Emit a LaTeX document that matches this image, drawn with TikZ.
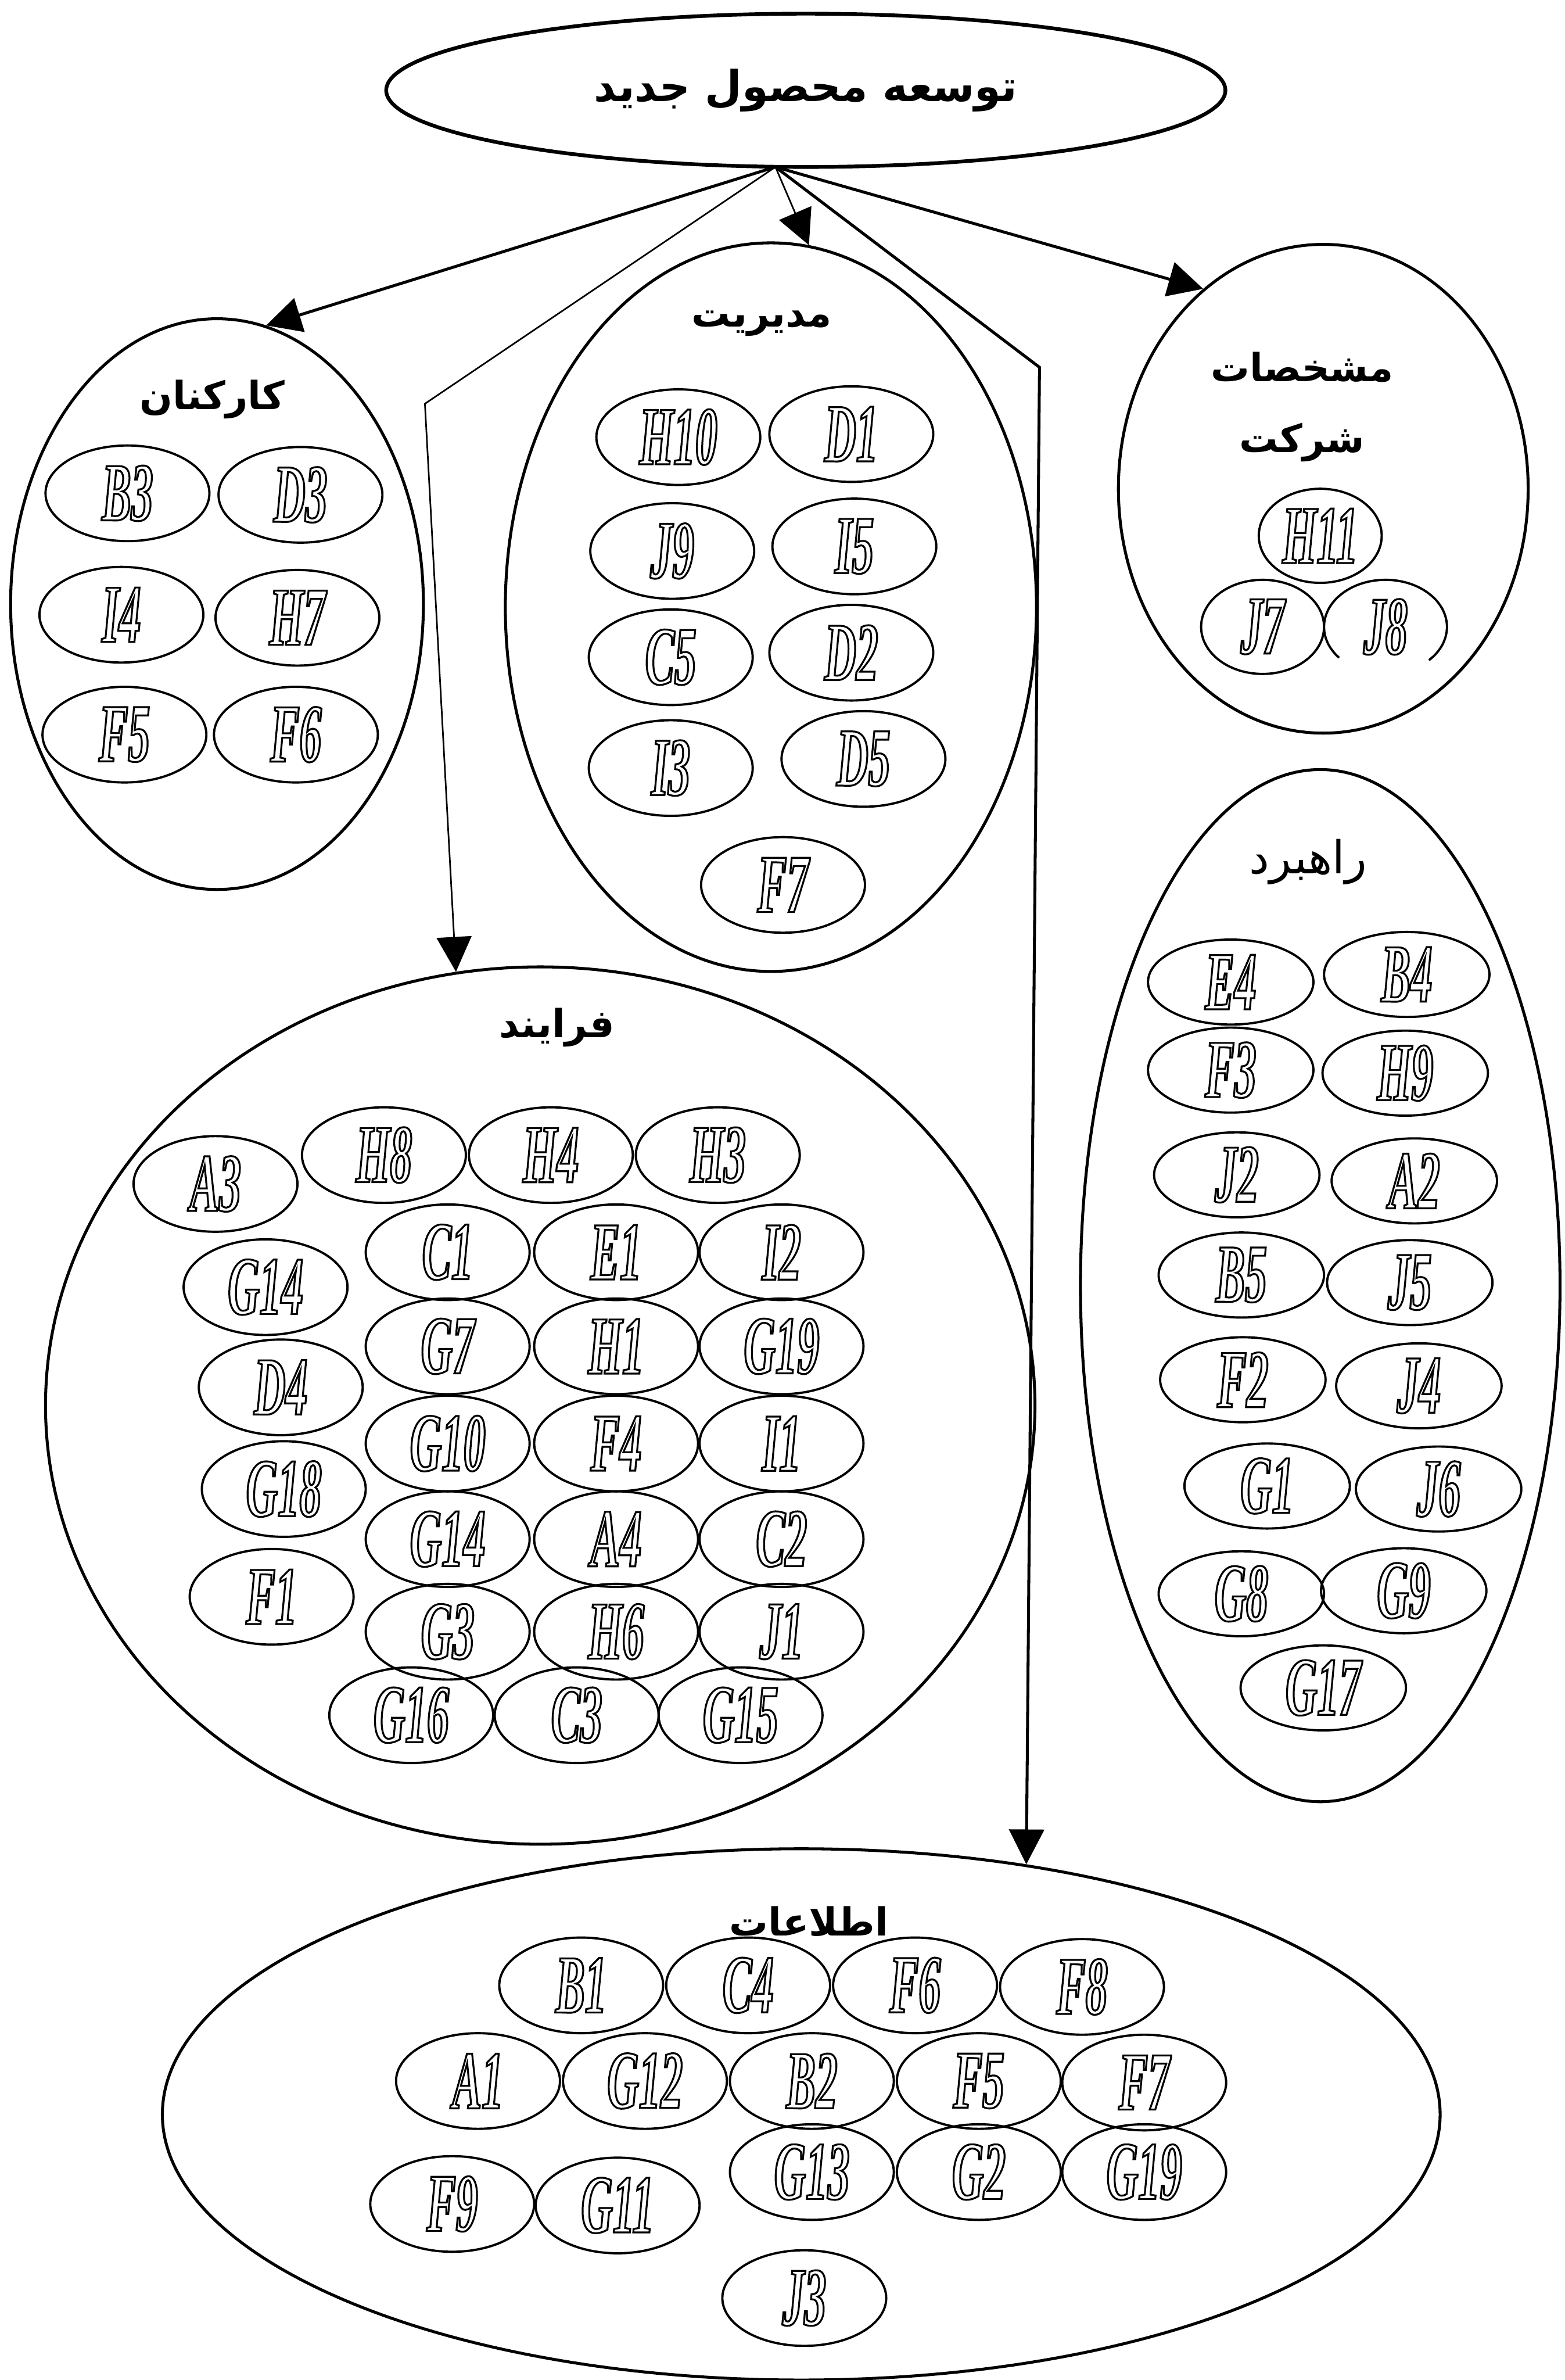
\documentclass[tikz,border=0pt]{standalone}
\usepackage{fontspec}
\usetikzlibrary{shapes.geometric, arrows.meta}

\newfontfamily\arabicfont[Script=Arabic]{DejaVu Sans}
\newfontfamily\codefont[FakeStretch=0.53]{Liberation Serif}
\newcommand\hollow{\special{pdf:literal direct 1 Tr 0.7 w}}
\TeXXeTstate=1

\begin{document}
\begin{tikzpicture}[
  x=0.2mm, y=-0.2mm,
  root/.style    = {draw, ellipse, line width=1.4pt, inner sep=0pt,
                    minimum width=110.6mm, minimum height=20.2mm,
                    font=\arabicfont\bfseries\fontsize{16}{20}\selectfont},
  group/.style   = {draw, ellipse, line width=1.1pt, inner sep=0pt},
  item/.style    = {draw, ellipse, line width=0.85pt, inner sep=0pt,
                    minimum width=21.6mm, minimum height=12.6mm,
                    font=\codefont\bfseries\itshape\fontsize{31}{33}\selectfont\hollow},
  small/.style   = {minimum width=16.2mm, minimum height=12.4mm},
  flat/.style    = {minimum width=21.8mm, minimum height=11.2mm},
  title/.style   = {inner sep=0pt, align=center,
                    font=\arabicfont\bfseries\fontsize{14.5}{26.5}\selectfont},
  arr/.style     = {-{Triangle[length=4.6mm, width=4.6mm]}, line width=0.6pt},
  boldarr/.style = {arr, line width=1.1pt},
]

%── Root ──────────────────────────────────────────────────────────────────
\useasboundingbox (0,0) rectangle (1031,1568);
\node[root] (top) at (531,59.5) {\beginR توسعه محصول جدید\endR};

%── Groups ────────────────────────────────────────────────────────────────
\node[group, minimum width=54.4mm,  minimum height=75.2mm]  (kar) at (143,398)  {};
\node[group, minimum width=70mm,    minimum height=96mm]    (mod) at (508,400)  {};
\node[group, minimum width=54mm,    minimum height=64.4mm]  (msh) at (872,322)  {};
\node[group, minimum width=63.2mm,  minimum height=136mm]   (rah) at (870,847)  {};
\node[group, minimum width=130.4mm, minimum height=115.6mm] (far) at (356,926)  {};
\node[group, minimum width=168.4mm, minimum height=70mm]    (ett) at (528,1393) {};

\node[title] (karT) at (140,263)  {\beginR کارکنان\endR};
\node[title] (modT) at (502,213)  {\beginR مدیریت\endR};
\node[title] (mshT) at (858,268)  {\beginR مشخصات\endR\\\beginR شرکت\endR};
\node[title, font=\arabicfont\fontsize{17}{20}\selectfont]
             (rahT) at (862,568)  {\beginR راهبرد\endR};
\node[title] (farT) at (367,677)  {\beginR فرایند\endR};
\node[title] (ettT) at (533,1266) {\beginR اطلاعات\endR};

%── Personnel ─────────────────────────────────────────────────────────────
\node[item] (kB3) at (84,325)  {B3};
\node[item] (kD3) at (198,326) {D3};
\node[item] (kI4) at (80,405)  {I4};
\node[item] (kH7) at (196,407) {H7};
\node[item] (kF5) at (82,484)  {F5};
\node[item] (kF6) at (195,484) {F6};

%── Management ────────────────────────────────────────────────────────────
\node[item] (mH10) at (447,288) {H10};
\node[item] (mD1)  at (561,286) {D1};
\node[item] (mJ9)  at (443,363) {J9};
\node[item] (mI5)  at (563,360) {I5};
\node[item] (mC5)  at (442,433) {C5};
\node[item] (mD2)  at (561,430) {D2};
\node[item] (mI3)  at (442,506) {I3};
\node[item] (mD5)  at (569,500) {D5};
\node[item] (mF7)  at (516,583) {F7};

%── Company profile ───────────────────────────────────────────────────────
\node[item, small] (sH11) at (870,353) {H11};
\node[item, small] (sJ7)  at (832,413) {J7};
\node[item, small, draw=none] (sJ8) at (913,413) {J8};
\draw[line width=0.85pt] ([shift={(-45:8.1mm and 6.2mm)}]sJ8.center)
  arc[start angle=-45, end angle=221, x radius=8.1mm, y radius=6.2mm];

%── Strategy ──────────────────────────────────────────────────────────────
\node[item, flat] (rE4)  at (811,647)  {E4};
\node[item, flat] (rB4)  at (927,642)  {B4};
\node[item, flat] (rF3)  at (811,705)  {F3};
\node[item, flat] (rH9)  at (926,707)  {H9};
\node[item, flat] (rJ2)  at (815,774)  {J2};
\node[item, flat] (rA2)  at (932,778)  {A2};
\node[item, flat] (rB5)  at (818,840)  {B5};
\node[item, flat] (rJ5)  at (929,845)  {J5};
\node[item, flat] (rF2)  at (819,909)  {F2};
\node[item, flat] (rJ4)  at (935,913)  {J4};
\node[item, flat] (rG1)  at (835,979)  {G1};
\node[item, flat] (rJ6)  at (948,981)  {J6};
\node[item, flat] (rG8)  at (818,1050) {G8};
\node[item, flat] (rG9)  at (925,1048) {G9};
\node[item, flat] (rG17) at (872,1112) {G17};

%── Process ───────────────────────────────────────────────────────────────
\node[item] (fA3)   at (142,780)  {A3};
\node[item] (fH8)   at (253,761)  {H8};
\node[item] (fH4)   at (363,761)  {H4};
\node[item] (fH3)   at (473,761)  {H3};
\node[item] (fG14a) at (175,848)  {G14};
\node[item] (fC1)   at (295,825)  {C1};
\node[item] (fE1)   at (406,825)  {E1};
\node[item] (fI2)   at (515,825)  {I2};
\node[item] (fD4)   at (185,914)  {D4};
\node[item] (fG7)   at (295,887)  {G7};
\node[item] (fH1)   at (406,887)  {H1};
\node[item] (fG19)  at (515,887)  {G19};
\node[item] (fG18)  at (187,981)  {G18};
\node[item] (fG10)  at (295,951)  {G10};
\node[item] (fF4)   at (406,951)  {F4};
\node[item] (fI1)   at (515,951)  {I1};
\node[item] (fF1)   at (179,1052) {F1};
\node[item] (fG14b) at (295,1014) {G14};
\node[item] (fA4)   at (406,1014) {A4};
\node[item] (fC2)   at (515,1014) {C2};
\node[item] (fG3)   at (295,1075) {G3};
\node[item] (fH6)   at (406,1075) {H6};
\node[item] (fJ1)   at (515,1075) {J1};
\node[item] (fG16)  at (271,1130) {G16};
\node[item] (fC3)   at (380,1130) {C3};
\node[item] (fG15)  at (488,1130) {G15};

%── Information ───────────────────────────────────────────────────────────
\node[item] (eB1)  at (383,1308) {B1};
\node[item] (eC4)  at (493,1308) {C4};
\node[item] (eF6)  at (603,1308) {F6};
\node[item] (eF8)  at (713,1309) {F8};
\node[item] (eA1)  at (315,1371) {A1};
\node[item] (eG12) at (425,1371) {G12};
\node[item] (eB2)  at (535,1371) {B2};
\node[item] (eF5)  at (645,1371) {F5};
\node[item] (eF7)  at (754,1372) {F7};
\node[item] (eG13) at (535,1431) {G13};
\node[item] (eG2)  at (645,1431) {G2};
\node[item] (eG19) at (754,1431) {G19};
\node[item] (eF9)  at (298,1452) {F9};
\node[item] (eG11) at (407,1453) {G11};
\node[item] (eJ3)  at (530,1514) {J3};

%── Arrows ────────────────────────────────────────────────────────────────
\coordinate (src)   at (511,110);
\coordinate (bendL) at (280,266);
\coordinate (bendR) at (685,242);

\draw[boldarr] (src) -- (kar.80);
\draw[arr]     (src) -- (mod.84);
\draw[boldarr] (src) -- (msh.121);
\draw[arr]     (src) -- (bendL) -- (far.101);
\draw[boldarr] (src) -- (bendR) -- (ett.48);

\end{tikzpicture}
\end{document}
